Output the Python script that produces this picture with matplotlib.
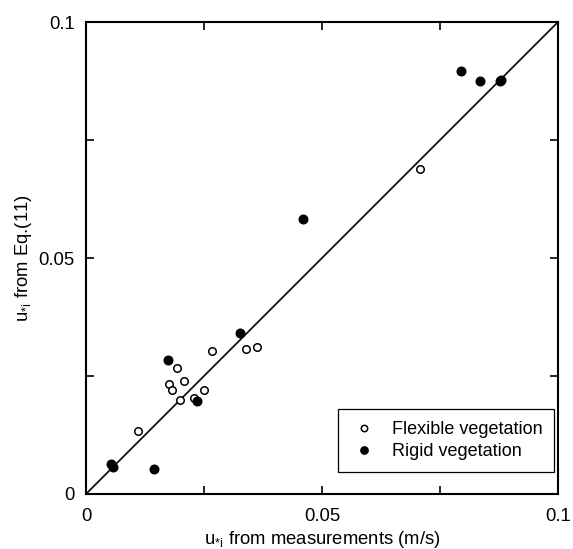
from matplotlib import pyplot as plt
from matplotlib.ticker import MultipleLocator

plt.rcParams.update({'font.size': 13,
                     'font.family': ['Liberation Sans', 'DejaVu Sans'],
                     'mathtext.fontset': 'custom',
                     'mathtext.rm': 'Liberation Sans',
                     'mathtext.it': 'Liberation Sans',
                     'mathtext.default': 'regular'})

# flexible vegetation (open circles)
flexMeas = [0.0111, 0.0192, 0.0176, 0.0182, 0.0208, 0.0199, 0.0229, 0.0249,
            0.0266, 0.0340, 0.0362, 0.0708]
flexEq = [0.0134, 0.0267, 0.0234, 0.0220, 0.0240, 0.0199, 0.0203, 0.0221,
          0.0304, 0.0308, 0.0312, 0.0688]

# rigid vegetation (filled circles)
rigidMeas = [0.0052, 0.0058, 0.0143, 0.0174, 0.0236, 0.0326, 0.0459,
             0.0795, 0.0835, 0.0877, 0.0880]
rigidEq = [0.0064, 0.0057, 0.0054, 0.0283, 0.0196, 0.0342, 0.0582,
           0.0897, 0.0876, 0.0876, 0.0878]

lineX = [0.0, 0.1]

fig = plt.figure(figsize=(5.73, 5.49), dpi=100)
ax = fig.add_axes([0.1501, 0.1002, 0.8237, 0.8597])

ax.plot(lineX, lineX, 'k-', lw=1.2, zorder=2)
ax.plot(flexMeas, flexEq, 'o', ms=5.4, mfc='white', mec='black', mew=1.1,
        label='Flexible vegetation', zorder=3)
ax.plot(rigidMeas, rigidEq, 'o', ms=6.2, mfc='black', mec='black',
        label='Rigid vegetation', zorder=3)

ax.set_xlim(0, 0.1)
ax.set_ylim(0, 0.1)
ax.xaxis.set_minor_locator(MultipleLocator(0.025))
ax.yaxis.set_minor_locator(MultipleLocator(0.025))
ax.set_xticks([0, 0.05, 0.1])
ax.set_xticklabels(['0', '0.05', '0.1'])
ax.set_yticks([0, 0.05, 0.1])
ax.set_yticklabels(['0', '0.05', '0.1'])
ax.tick_params(which='both', direction='in', length=6, width=1.2,
               top=True, right=True, labelsize=13.3)
ax.tick_params(axis='x', pad=10)
ax.tick_params(axis='y', pad=8)
for s in ax.spines.values():
    s.set_linewidth(1.5)

ax.set_xlabel(r'u$_{*i}$ from measurements (m/s)', fontsize=13.3, labelpad=3)
ax.set_ylabel(r'u$_{*i}$ from Eq.(11)', fontsize=13.3, labelpad=3)

leg = ax.legend(loc='lower right', bbox_to_anchor=(0.9915, 0.0466),
                fancybox=False, edgecolor='black', framealpha=1,
                fontsize=13, borderaxespad=0, handlelength=1.5,
                handletextpad=0.8, borderpad=0.65, labelspacing=0.3,
                markerscale=0.85)
leg.get_frame().set_linewidth(0.9)

plt.savefig("out.png", dpi=100)
